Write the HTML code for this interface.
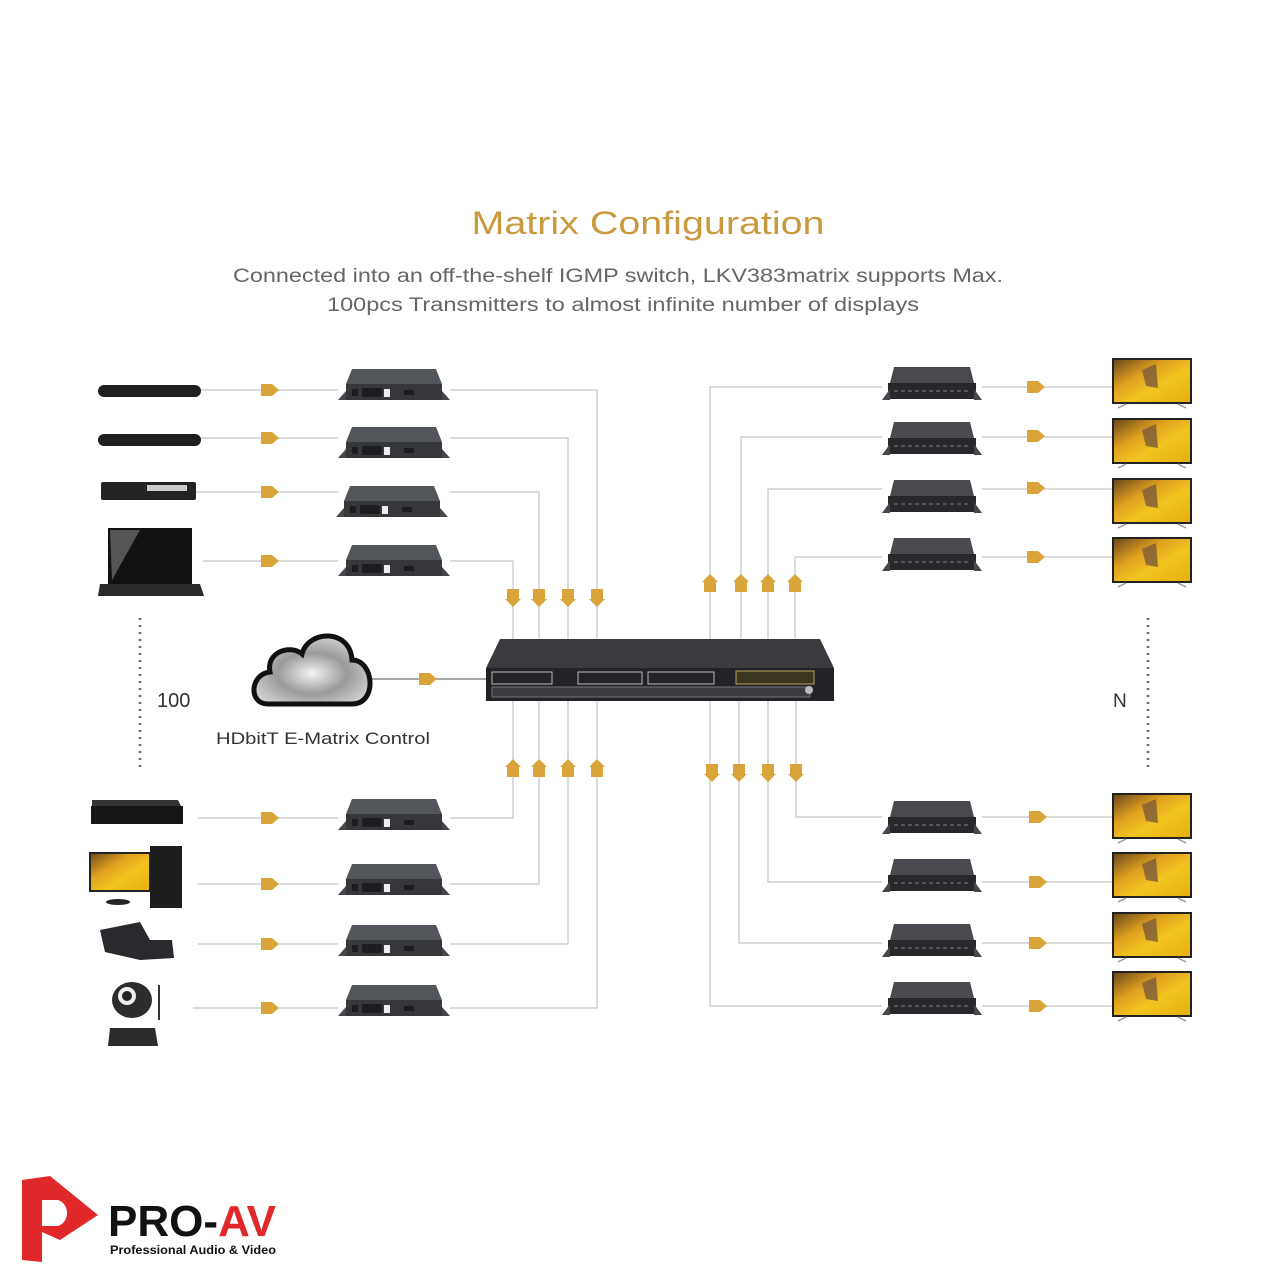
<!DOCTYPE html>
<html><head><meta charset="utf-8"><style>
html,body{margin:0;padding:0;background:#fff}
svg{display:block}
</style></head><body>
<svg width="1280" height="1280" viewBox="0 0 1280 1280" xmlns="http://www.w3.org/2000/svg">
<defs>
<linearGradient id="tvg" x1="0" y1="0" x2="1" y2="1">
<stop offset="0" stop-color="#6b4a1a"/><stop offset="0.35" stop-color="#e0a020"/><stop offset="0.6" stop-color="#f2c420"/><stop offset="1" stop-color="#e6b010"/>
</linearGradient>
<radialGradient id="cg" cx="0.5" cy="0.55" r="0.6">
<stop offset="0" stop-color="#f4f4f4"/><stop offset="0.5" stop-color="#9a9a9a"/><stop offset="1" stop-color="#d8d8d8"/>
</radialGradient>
<g id="tx">
<polygon points="14,0 98,0 104,15 8,15" fill="#53565b"/>
<rect x="8" y="15" width="96" height="16" fill="#35373b"/>
<polygon points="0,31 8,22 8,31" fill="#45474b"/>
<polygon points="112,31 104,22 104,31" fill="#45474b"/>
<rect x="24" y="19" width="20" height="9" rx="2" fill="#1c1d1f"/>
<rect x="46" y="20" width="6" height="8" fill="#eee"/>
<rect x="66" y="21" width="10" height="5" fill="#1c1d1f"/>
<rect x="14" y="20" width="6" height="7" fill="#1c1d1f"/>
</g>
<g id="rx">
<polygon points="12,0 88,0 92,16 8,16" fill="#484a4f"/>
<rect x="6" y="16" width="88" height="16" fill="#27282b"/>
<polygon points="0,33 8,22 8,33" fill="#45474b"/>
<polygon points="100,33 92,22 92,33" fill="#45474b"/>
<line x1="12" y1="24" x2="88" y2="24" stroke="#555" stroke-width="2" stroke-dasharray="4 3"/>
</g>
<g id="tv">
<rect x="0" y="0" width="80" height="46" fill="#222"/>
<rect x="2" y="2" width="76" height="42" fill="url(#tvg)"/>
<polygon points="30,12 44,6 46,30 34,28" fill="#7a5a3a" opacity="0.8"/>
<line x1="6" y1="50" x2="14" y2="46" stroke="#999" stroke-width="1.5"/>
<line x1="74" y1="50" x2="66" y2="46" stroke="#999" stroke-width="1.5"/>
</g>
<polygon id="ar" points="0,-6 11,-6 18,0 11,6 0,6" fill="#d9a53a"/>
<polygon id="ad" points="-6,-9 6,-9 6,1 8,1 0,9 -8,1 -6,1" fill="#d9a53a"/>
<polygon id="au" points="-6,9 6,9 6,-1 8,-1 0,-9 -8,-1 -6,-1" fill="#d9a53a"/>
</defs>

<text x="648" y="234" text-anchor="middle" font-family="Liberation Sans, sans-serif" font-size="32" fill="#c9993f" textLength="353" lengthAdjust="spacingAndGlyphs">Matrix Configuration</text>
<text x="618" y="282" text-anchor="middle" font-family="Liberation Sans, sans-serif" font-size="19" fill="#666" textLength="770" lengthAdjust="spacingAndGlyphs">Connected into an off-the-shelf IGMP switch, LKV383matrix supports Max.</text>
<text x="623" y="311" text-anchor="middle" font-family="Liberation Sans, sans-serif" font-size="19" fill="#666" textLength="592" lengthAdjust="spacingAndGlyphs">100pcs Transmitters to almost infinite number of displays</text>

<g stroke="#cfcfcf" stroke-width="1.5" fill="none">
<polyline points="200,390 338,390"/><polyline points="450,390 597,390 597,640"/>
<polyline points="200,438 338,438"/><polyline points="450,438 568,438 568,640"/>
<polyline points="195,492 338,492"/><polyline points="450,492 539,492 539,640"/>
<polyline points="203,561 338,561"/><polyline points="450,561 513,561 513,640"/>
<polyline points="198,818 338,818"/><polyline points="450,818 513,818 513,700"/>
<polyline points="198,884 338,884"/><polyline points="450,884 539,884 539,700"/>
<polyline points="198,944 338,944"/><polyline points="450,944 568,944 568,700"/>
<polyline points="193,1008 338,1008"/><polyline points="450,1008 597,1008 597,700"/>
<polyline points="710,640 710,387 882,387"/><polyline points="982,387 1112,387"/>
<polyline points="741,640 741,437 882,437"/><polyline points="982,437 1112,437"/>
<polyline points="768,640 768,489 882,489"/><polyline points="982,489 1112,489"/>
<polyline points="795,640 795,557 882,557"/><polyline points="982,557 1112,557"/>
<polyline points="796,700 796,817 882,817"/><polyline points="982,817 1112,817"/>
<polyline points="768,700 768,882 882,882"/><polyline points="982,882 1112,882"/>
<polyline points="739,700 739,943 882,943"/><polyline points="982,943 1112,943"/>
<polyline points="710,700 710,1006 882,1006"/><polyline points="982,1006 1112,1006"/>
</g>
<line x1="372" y1="679" x2="500" y2="679" stroke="#888" stroke-width="1.5"/>

<use href="#ar" x="261" y="390"/><use href="#ar" x="261" y="438"/><use href="#ar" x="261" y="492"/><use href="#ar" x="261" y="561"/>
<use href="#ar" x="261" y="818"/><use href="#ar" x="261" y="884"/><use href="#ar" x="261" y="944"/><use href="#ar" x="261" y="1008"/>
<use href="#ar" x="419" y="679"/>
<use href="#ar" x="1027" y="387"/><use href="#ar" x="1027" y="436"/><use href="#ar" x="1027" y="488"/><use href="#ar" x="1027" y="557"/>
<use href="#ar" x="1029" y="817"/><use href="#ar" x="1029" y="882"/><use href="#ar" x="1029" y="943"/><use href="#ar" x="1029" y="1006"/>
<use href="#ad" x="513" y="598"/><use href="#ad" x="539" y="598"/><use href="#ad" x="568" y="598"/><use href="#ad" x="597" y="598"/>
<use href="#au" x="513" y="768"/><use href="#au" x="539" y="768"/><use href="#au" x="568" y="768"/><use href="#au" x="597" y="768"/>
<use href="#au" x="710" y="583"/><use href="#au" x="741" y="583"/><use href="#au" x="768" y="583"/><use href="#au" x="795" y="583"/>
<use href="#ad" x="712" y="773"/><use href="#ad" x="739" y="773"/><use href="#ad" x="768" y="773"/><use href="#ad" x="796" y="773"/>

<use href="#tx" x="338" y="369"/><use href="#tx" x="338" y="427"/><use href="#tx" x="336" y="486"/><use href="#tx" x="338" y="545"/>
<use href="#tx" x="338" y="799"/><use href="#tx" x="338" y="864"/><use href="#tx" x="338" y="925"/><use href="#tx" x="338" y="985"/>
<use href="#rx" x="882" y="367"/><use href="#rx" x="882" y="422"/><use href="#rx" x="882" y="480"/><use href="#rx" x="882" y="538"/>
<use href="#rx" x="882" y="801"/><use href="#rx" x="882" y="859"/><use href="#rx" x="882" y="924"/><use href="#rx" x="882" y="982"/>
<use href="#tv" x="1112" y="358"/><use href="#tv" x="1112" y="418"/><use href="#tv" x="1112" y="478"/><use href="#tv" x="1112" y="537"/>
<use href="#tv" x="1112" y="793"/><use href="#tv" x="1112" y="852"/><use href="#tv" x="1112" y="912"/><use href="#tv" x="1112" y="971"/>

<polygon points="500,639 820,639 834,668 486,668" fill="#3a3b3f"/>
<rect x="486" y="668" width="348" height="33" fill="#222326"/>
<rect x="492" y="672" width="60" height="12" fill="none" stroke="#bbb" stroke-width="1"/>
<rect x="578" y="672" width="64" height="12" fill="none" stroke="#bbb" stroke-width="1"/>
<rect x="648" y="672" width="66" height="12" fill="none" stroke="#bbb" stroke-width="1"/>
<rect x="736" y="671" width="78" height="13" fill="#3b3620" stroke="#b8a060" stroke-width="1"/>
<rect x="492" y="687" width="318" height="10" fill="#3a3b3f" stroke="#888" stroke-width="0.8"/>
<circle cx="809" cy="690" r="4" fill="#bbb"/>

<path d="M268,704 C248,704 250,674 270,672 C266,652 290,644 302,654 C308,630 350,628 352,660 C374,660 378,704 352,704 Z" fill="url(#cg)" stroke="#111" stroke-width="5"/>
<text x="323" y="744" text-anchor="middle" font-family="Liberation Sans, sans-serif" font-size="17" fill="#333" textLength="214" lengthAdjust="spacingAndGlyphs">HDbitT E-Matrix Control</text>

<line x1="140" y1="618" x2="140" y2="772" stroke="#666" stroke-width="2.5" stroke-dasharray="2 5"/>
<line x1="1148" y1="618" x2="1148" y2="772" stroke="#666" stroke-width="2.5" stroke-dasharray="2 5"/>
<text x="157" y="707" font-family="Liberation Sans, sans-serif" font-size="20" fill="#333">100</text>
<text x="1113" y="707" font-family="Liberation Sans, sans-serif" font-size="19" fill="#333">N</text>

<rect x="98" y="385" width="103" height="12" rx="6" fill="#1f1f21"/>
<rect x="98" y="434" width="103" height="12" rx="6" fill="#1f1f21"/>
<rect x="101" y="482" width="95" height="18" rx="2" fill="#222"/><rect x="147" y="485" width="40" height="6" fill="#ccc"/>
<polygon points="108,528 192,528 192,584 108,584" fill="#111"/><polygon points="110,530 140,530 112,580" fill="#555"/>
<polygon points="100,584 200,584 204,596 98,596" fill="#2a2a2c"/>
<polygon points="92,800 178,800 182,808 92,808" fill="#333"/><rect x="91" y="806" width="92" height="18" fill="#151515"/>
<rect x="90" y="853" width="60" height="38" fill="url(#tvg)" stroke="#222" stroke-width="2"/><rect x="150" y="846" width="32" height="62" fill="#1d1d1d"/>
<ellipse cx="118" cy="902" rx="12" ry="3" fill="#222"/>
<path d="M100,930 L140,922 L150,940 L172,940 L174,958 L140,960 L105,952 Z" fill="#2a2a2e"/>
<ellipse cx="132" cy="1000" rx="20" ry="18" fill="#2c2c2c"/><circle cx="127" cy="996" r="9" fill="#eee"/><circle cx="127" cy="996" r="5" fill="#222"/>
<path d="M110,1028 L155,1028 L158,1046 L108,1046 Z" fill="#2c2c2c"/><line x1="159" y1="985" x2="159" y2="1020" stroke="#333" stroke-width="2"/>

<path d="M22,1180 L22,1260 L42,1262 L42,1232 L60,1240 L98,1215 L50,1176 Z" fill="#e0282a"/>
<path d="M42,1200 L58,1200 C70,1204 70,1222 58,1226 L42,1226 Z" fill="#fff"/>
<text x="108" y="1236" font-family="Liberation Sans, sans-serif" font-weight="bold" font-size="44" fill="#111" textLength="168" lengthAdjust="spacingAndGlyphs">PRO-<tspan fill="#e0282a">AV</tspan></text>
<text x="110" y="1254" font-family="Liberation Sans, sans-serif" font-weight="bold" font-size="12" fill="#111" textLength="166" lengthAdjust="spacingAndGlyphs">Professional Audio &amp; Video</text>
</svg>
</body></html>
